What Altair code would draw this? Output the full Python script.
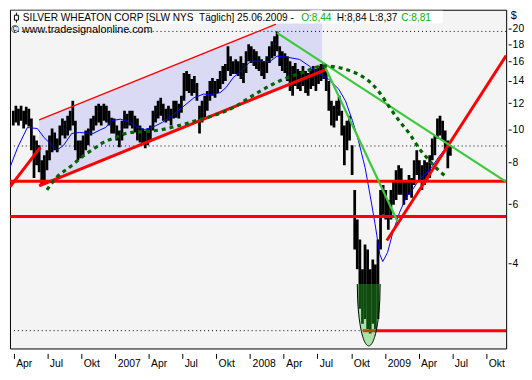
import altair as alt
import pandas as pd
import numpy as np

# ---------------- data ----------------
bar_start = "2006-03-31"  # weekly bars, Fridays
bar_high = [11.40, 11.80, 11.56, 11.80, 11.40, 11.72, 11.56, 10.80, 9.62, 9.30,
            8.99, 8.12, 8.40, 8.69, 9.62, 10.09, 9.82, 9.43, 10.30, 10.80,
            10.65, 11.02, 11.40, 12.20, 10.65, 9.30, 9.30, 9.62, 9.95, 10.09,
            10.80, 11.02, 11.80, 11.96, 11.80, 11.96, 11.80, 11.40, 10.87, 10.80,
            10.30, 9.95, 10.65, 11.40, 11.17, 11.40, 11.40, 11.02, 10.80, 10.30,
            10.09, 9.95, 10.09, 10.30, 11.40, 11.80, 12.20, 12.46, 11.96, 11.56,
            11.80, 11.56, 12.20, 12.20, 11.96, 12.63, 14.77, 14.97, 14.67, 14.18,
            14.47, 13.80, 11.80, 12.20, 12.63, 13.06, 13.98, 14.27, 13.98, 14.18,
            14.97, 15.49, 15.70, 17.74, 16.58, 16.02, 16.24, 16.02, 16.58, 15.81,
            17.15, 17.98, 17.74, 17.38, 17.15, 16.58, 16.24, 16.02, 16.58, 17.74,
            18.36, 19.00, 19.65, 17.74, 17.15, 16.92, 16.58, 16.02, 15.49, 15.81,
            15.17, 14.97, 15.49, 14.97, 14.77, 15.17, 15.49, 15.17, 15.49, 15.70,
            15.81, 14.97, 13.98, 12.20, 11.80, 12.20, 12.63, 11.40, 10.30, 10.65,
            11.02, 8.99, 6.62, 5.40, 4.71, 3.84, 4.55, 4.40, 3.84, 4.11,
            3.97, 4.71, 6.62, 6.85, 6.62, 6.18, 6.62, 7.08, 7.58, 7.84,
            7.68, 7.08, 6.99, 7.33, 7.18, 8.12, 8.69, 8.12, 7.84, 8.12,
            8.01, 8.40, 9.43, 9.62, 10.80, 11.02, 10.65, 9.95, 9.30, 8.99]
bar_low = [10.30, 10.51, 10.30, 10.65, 10.09, 10.37, 10.23, 8.69, 7.18, 7.84,
           7.48, 6.85, 6.94, 7.58, 8.12, 8.57, 8.69, 8.57, 8.99, 9.62,
           9.43, 9.62, 9.95, 10.30, 8.69, 8.12, 8.23, 8.40, 8.69, 8.99,
           9.62, 9.95, 10.30, 10.51, 10.30, 10.65, 10.51, 10.30, 9.75, 9.75,
           9.30, 8.87, 9.30, 10.09, 10.09, 10.30, 10.09, 9.82, 9.30, 9.17,
           8.99, 8.81, 8.99, 9.30, 9.95, 10.51, 10.80, 11.02, 10.65, 10.51,
           10.65, 10.30, 10.80, 10.87, 10.80, 11.25, 12.20, 13.06, 12.88, 12.63,
           12.88, 12.20, 9.75, 10.51, 10.80, 11.40, 12.20, 12.63, 12.46, 12.88,
           13.24, 13.70, 13.98, 14.97, 14.47, 14.67, 14.67, 14.47, 14.18, 13.80,
           14.77, 16.02, 15.81, 15.49, 15.17, 14.97, 14.47, 14.18, 14.77, 15.81,
           16.35, 16.58, 17.15, 15.49, 14.97, 14.77, 13.98, 13.06, 12.63, 13.52,
           13.24, 13.06, 13.52, 12.88, 12.63, 13.24, 13.52, 13.06, 13.70, 13.98,
           14.18, 13.06, 11.40, 10.30, 10.16, 10.65, 11.02, 9.62, 7.84, 8.69,
           9.30, 7.33, 4.40, 3.84, 2.93, 2.64, 2.73, 2.55, 2.47, 2.64,
           2.55, 2.73, 4.40, 5.58, 5.40, 5.04, 5.40, 5.98, 6.18, 6.40,
           6.40, 5.98, 6.18, 6.40, 6.27, 6.85, 7.33, 7.08, 6.62, 6.85,
           6.99, 7.18, 8.12, 8.40, 9.43, 9.62, 9.30, 8.69, 7.68, 8.37]

ma_dates = ["2006-03-22", "2006-04-12", "2006-05-08", "2006-06-04", "2006-06-22",
            "2006-07-19", "2006-07-27", "2006-08-14", "2006-09-05", "2006-09-26",
            "2006-11-02", "2006-11-23", "2006-12-06", "2006-12-22", "2007-01-15",
            "2007-02-11", "2007-03-01", "2007-03-22", "2007-04-13", "2007-05-09",
            "2007-06-04", "2007-07-01", "2007-08-02", "2007-08-28", "2007-09-16",
            "2007-10-12", "2007-10-28", "2007-11-16", "2007-12-12", "2008-01-02",
            "2008-01-26", "2008-02-22", "2008-03-14", "2008-04-09", "2008-05-14",
            "2008-06-09", "2008-07-06", "2008-08-01", "2008-08-28", "2008-09-15",
            "2008-10-04", "2008-10-20", "2008-11-07", "2008-11-21", "2008-12-04",
            "2008-12-17", "2008-12-25", "2009-01-07", "2009-01-21", "2009-02-08",
            "2009-02-27", "2009-03-15", "2009-04-02", "2009-04-21", "2009-05-06",
            "2009-05-25", "2009-06-13", "2009-06-26"]
ma_values = [7.73, 8.87, 10.16, 10.09, 9.49, 8.87, 8.69, 8.99, 9.75, 9.82,
             9.75, 10.02, 10.16, 10.65, 10.76, 10.53, 10.19, 10.02, 10.19, 10.53,
             11.02, 11.66, 12.46, 12.78, 12.72, 12.91, 13.37, 14.30, 15.14, 16.02,
             16.02, 15.94, 16.58, 16.47, 16.21, 15.49, 14.67, 14.14, 13.21, 12.20,
             10.65, 9.30, 7.73, 6.36, 5.25, 4.25, 4.05, 4.31, 4.93, 5.66,
             6.31, 6.62, 7.08, 7.43, 7.73, 8.29, 8.81, 8.93]

arc_dates = ["2006-06-30", "2006-07-27", "2006-08-30", "2006-10-09", "2006-11-10",
             "2006-11-23", "2007-01-02", "2007-02-11", "2007-03-27", "2007-05-09",
             "2007-06-23", "2007-08-02", "2007-09-24", "2007-11-16", "2008-01-07",
             "2008-03-01", "2008-04-09", "2008-05-19", "2008-07-17", "2008-08-20",
             "2008-09-29", "2008-11-02", "2008-11-26", "2008-12-17", "2009-01-13",
             "2009-02-11", "2009-03-07", "2009-04-02", "2009-04-29", "2009-05-25",
             "2009-06-16"]
arc_values = [6.62, 7.23, 7.73, 8.40, 8.87, 9.08, 9.49, 9.82, 9.89, 10.02,
              10.30, 10.61, 11.02, 11.64, 12.63, 13.65, 14.27, 14.77, 15.49, 15.39,
              14.97, 14.37, 13.70, 12.88, 11.64, 10.51, 9.75, 8.81, 8.12, 7.58,
              7.23]

red_thick = [("r1", "2006-03-22", 6.76, "2006-06-12", 8.87),
             ("r2", "2006-06-09", 6.81, "2008-07-24", 15.12),
             ("r3", "2009-01-05", 4.68, "2009-11-24", 16.64),
             ("r4", "2008-11-01", 2.52, "2009-11-24", 2.52)]
red_thin = [("u1", "2006-06-09", 10.70, "2008-03-11", 20.65)]
green = [("g1", "2008-03-14", 19.45, "2009-11-24", 7.00),
         ("g2", "2008-07-17", 15.80, "2009-02-03", 5.33)]
red_levels = [7.03, 5.52]
dotted_levels = [19.65, 8.95, 2.52]
channel_dates = ["2006-06-09", "2008-07-14"]
channel_upper = [10.70, 23.46]
channel_lower = [6.81, 14.95]
ellipse_center, ellipse_halfdays, ellipse_top, ellipse_bottom = "2008-11-17", 31, 3.47, 2.27

quarters = [(2006, 4), (2006, 7), (2006, 10)] + [(y, m) for y in (2007, 2008, 2009) for m in (1, 4, 7, 10)]
y_ticks = [4, 6, 8, 10, 12, 14, 16, 18, 20]

# ---------------- tables ----------------
bars = pd.DataFrame({"date": pd.date_range(bar_start, periods=len(bar_high), freq="7D"),
                     "price": bar_low, "price2": bar_high})
ma = pd.DataFrame({"date": pd.to_datetime(ma_dates), "price": ma_values})
arc = pd.DataFrame({"date": pd.to_datetime(arc_dates), "price": arc_values})


def seg_df(segs):
    rows = []
    for name, d1, p1, d2, p2 in segs:
        rows.append({"name": name, "date": d1, "price": p1})
        rows.append({"name": name, "date": d2, "price": p2})
    return pd.DataFrame(rows)


channel = pd.DataFrame({"date": channel_dates, "price": channel_upper, "price2": channel_lower})
t = np.linspace(-1, 1, 61)
ec = pd.Timestamp(ellipse_center)
lt, lb = np.log(ellipse_top), np.log(ellipse_bottom)
ell = pd.DataFrame({"date": [ec + pd.Timedelta(days=float(v * ellipse_halfdays)) for v in t],
                    "price": np.exp(lt - (lt - lb) * np.sqrt(np.clip(1 - t ** 2, 0, 1))),
                    "price2": ellipse_top})

# ---------------- scales / axes ----------------
FONT_AX = "Liberation Sans Narrow, Liberation Sans, sans-serif"
xscale = alt.Scale(domain=[alt.DateTime(year=2006, month=3, date=22),
                           alt.DateTime(year=2009, month=11, date=24)])
yscale = alt.Scale(type="log", domain=[2.23, 22.8], nice=False)
month_expr = ("month(datum.value) == 0 ? timeFormat(datum.value, '%Y') : "
              "['Jan','Feb','Mär','Apr','Mai','Jun','Jul','Aug','Sep','Okt','Nov','Dez'][month(datum.value)]")
xaxis = alt.Axis(values=[alt.DateTime(year=y, month=m, date=1) for y, m in quarters],
                 labelExpr=month_expr, title=None, grid=False, domain=False,
                 offset=5, tickSize=5, tickColor="black", labelPadding=0,
                 labelAlign="left", labelOffset=2, labelFont=FONT_AX, labelFontSize=10.5,
                 labelColor="black")
yaxis = alt.Axis(values=y_ticks, format="d", orient="right", grid=False, domain=False,
                 offset=2, tickSize=3, tickColor="black", labelPadding=1,
                 labelFont=FONT_AX, labelFontSize=10.5, labelColor="black",
                 title="$", titleAngle=0, titleX=2, titleY=0, titleBaseline="top",
                 titleAlign="left", titleFont=FONT_AX, titleFontSize=11,
                 titleFontWeight="normal", titleColor="black")


def X(f="date"):
    return alt.X(f"{f}:T", scale=xscale, axis=xaxis)


def Y(f="price"):
    return alt.Y(f"{f}:Q", scale=yscale, axis=yaxis)


layers = []
layers.append(alt.Chart(channel).mark_area(color="#dadaf5", clip=True).encode(
    x=X(), y=Y(), y2=alt.Y2("price2:Q")))
layers.append(alt.Chart(pd.DataFrame({"price": dotted_levels})).mark_rule(
    color="black", strokeWidth=1, strokeDash=[1, 3]).encode(y=Y()))
layers.append(alt.Chart(bars).mark_rule(color="black", strokeWidth=2.75, clip=True).encode(
    x=X(), y=Y(), y2=alt.Y2("price2:Q")))
layers.append(alt.Chart(ma).mark_line(color="#0000ff", strokeWidth=1, clip=True).encode(
    x=X(), y=Y()))
layers.append(alt.Chart(pd.DataFrame({"price": red_levels})).mark_rule(
    color="#ff0000", strokeWidth=3).encode(y=Y()))
layers.append(alt.Chart(seg_df(red_thin)).mark_line(color="#ff0000", strokeWidth=1.3, clip=True).encode(
    x=X(), y=Y(), detail="name:N"))
layers.append(alt.Chart(seg_df(red_thick)).mark_line(color="#ff0000", strokeWidth=3, clip=True).encode(
    x=X(), y=Y(), detail="name:N"))
layers.append(alt.Chart(seg_df(green)).mark_line(color="#3cc83c", strokeWidth=2.2, clip=True).encode(
    x=X(), y=Y(), detail="name:N"))
layers.append(alt.Chart(arc).mark_line(color="#006400", strokeWidth=3.2, strokeDash=[4, 4],
                                       interpolate="monotone", clip=True).encode(x=X(), y=Y()))
layers.append(alt.Chart(ell).mark_area(color="#2ac42a", opacity=0.38, clip=True).encode(
    x=X(), y=Y(), y2=alt.Y2("price2:Q")))
layers.append(alt.Chart(ell).mark_line(color="black", strokeWidth=1, clip=True).encode(
    x=X(), y=Y()))

# header box and texts (decoration, pixel placed)
one = alt.Data(values=[{"k": 1}])
FONT_T = "Liberation Sans, sans-serif"
layers.append(alt.Chart(one).mark_rect(color="white").encode(
    x=alt.value(1), x2=alt.value(437), y=alt.value(1), y2=alt.value(14)))
layers.append(alt.Chart(one).mark_rule(color="black", strokeWidth=1).encode(
    x=alt.value(6.5), y=alt.value(3), y2=alt.value(13)))
layers.append(alt.Chart(one).mark_rect(fill="white", stroke="black", strokeWidth=1).encode(
    x=alt.value(4.5), x2=alt.value(8.5), y=alt.value(5.5), y2=alt.value(10.5)))
title_parts = [("SILVER WHEATON CORP [SLW NYS\u00a0 Täglich] 25.06.2009 -", 13, "black"),
               ("O:8,44", 294, "#00b400"),
               ("H:8,84 L:8,37", 330, "black"),
               ("C:8,81", 395, "#00b400")]
for txt, xx, col in title_parts:
    layers.append(alt.Chart(alt.Data(values=[{"t": txt}])).mark_text(
        align="left", baseline="middle", font=FONT_T, fontSize=10.2, color=col).encode(
        x=alt.value(xx), y=alt.value(8), text="t:N"))
layers.append(alt.Chart(alt.Data(values=[{"t": "© www.tradesignalonline.com"}])).mark_text(
    align="left", baseline="middle", font=FONT_T, fontSize=10.9, color="black").encode(
    x=alt.value(1), y=alt.value(20), text="t:N"))

chart = alt.layer(*layers).properties(
    width=501, height=342, padding={"left": 0, "top": 0, "right": 0, "bottom": 0},
    background="white"
).configure_view(stroke="black", strokeWidth=1, fill="#f4f4f4")

chart.save("out.html", embed_options={"renderer": "svg", "actions": False})
